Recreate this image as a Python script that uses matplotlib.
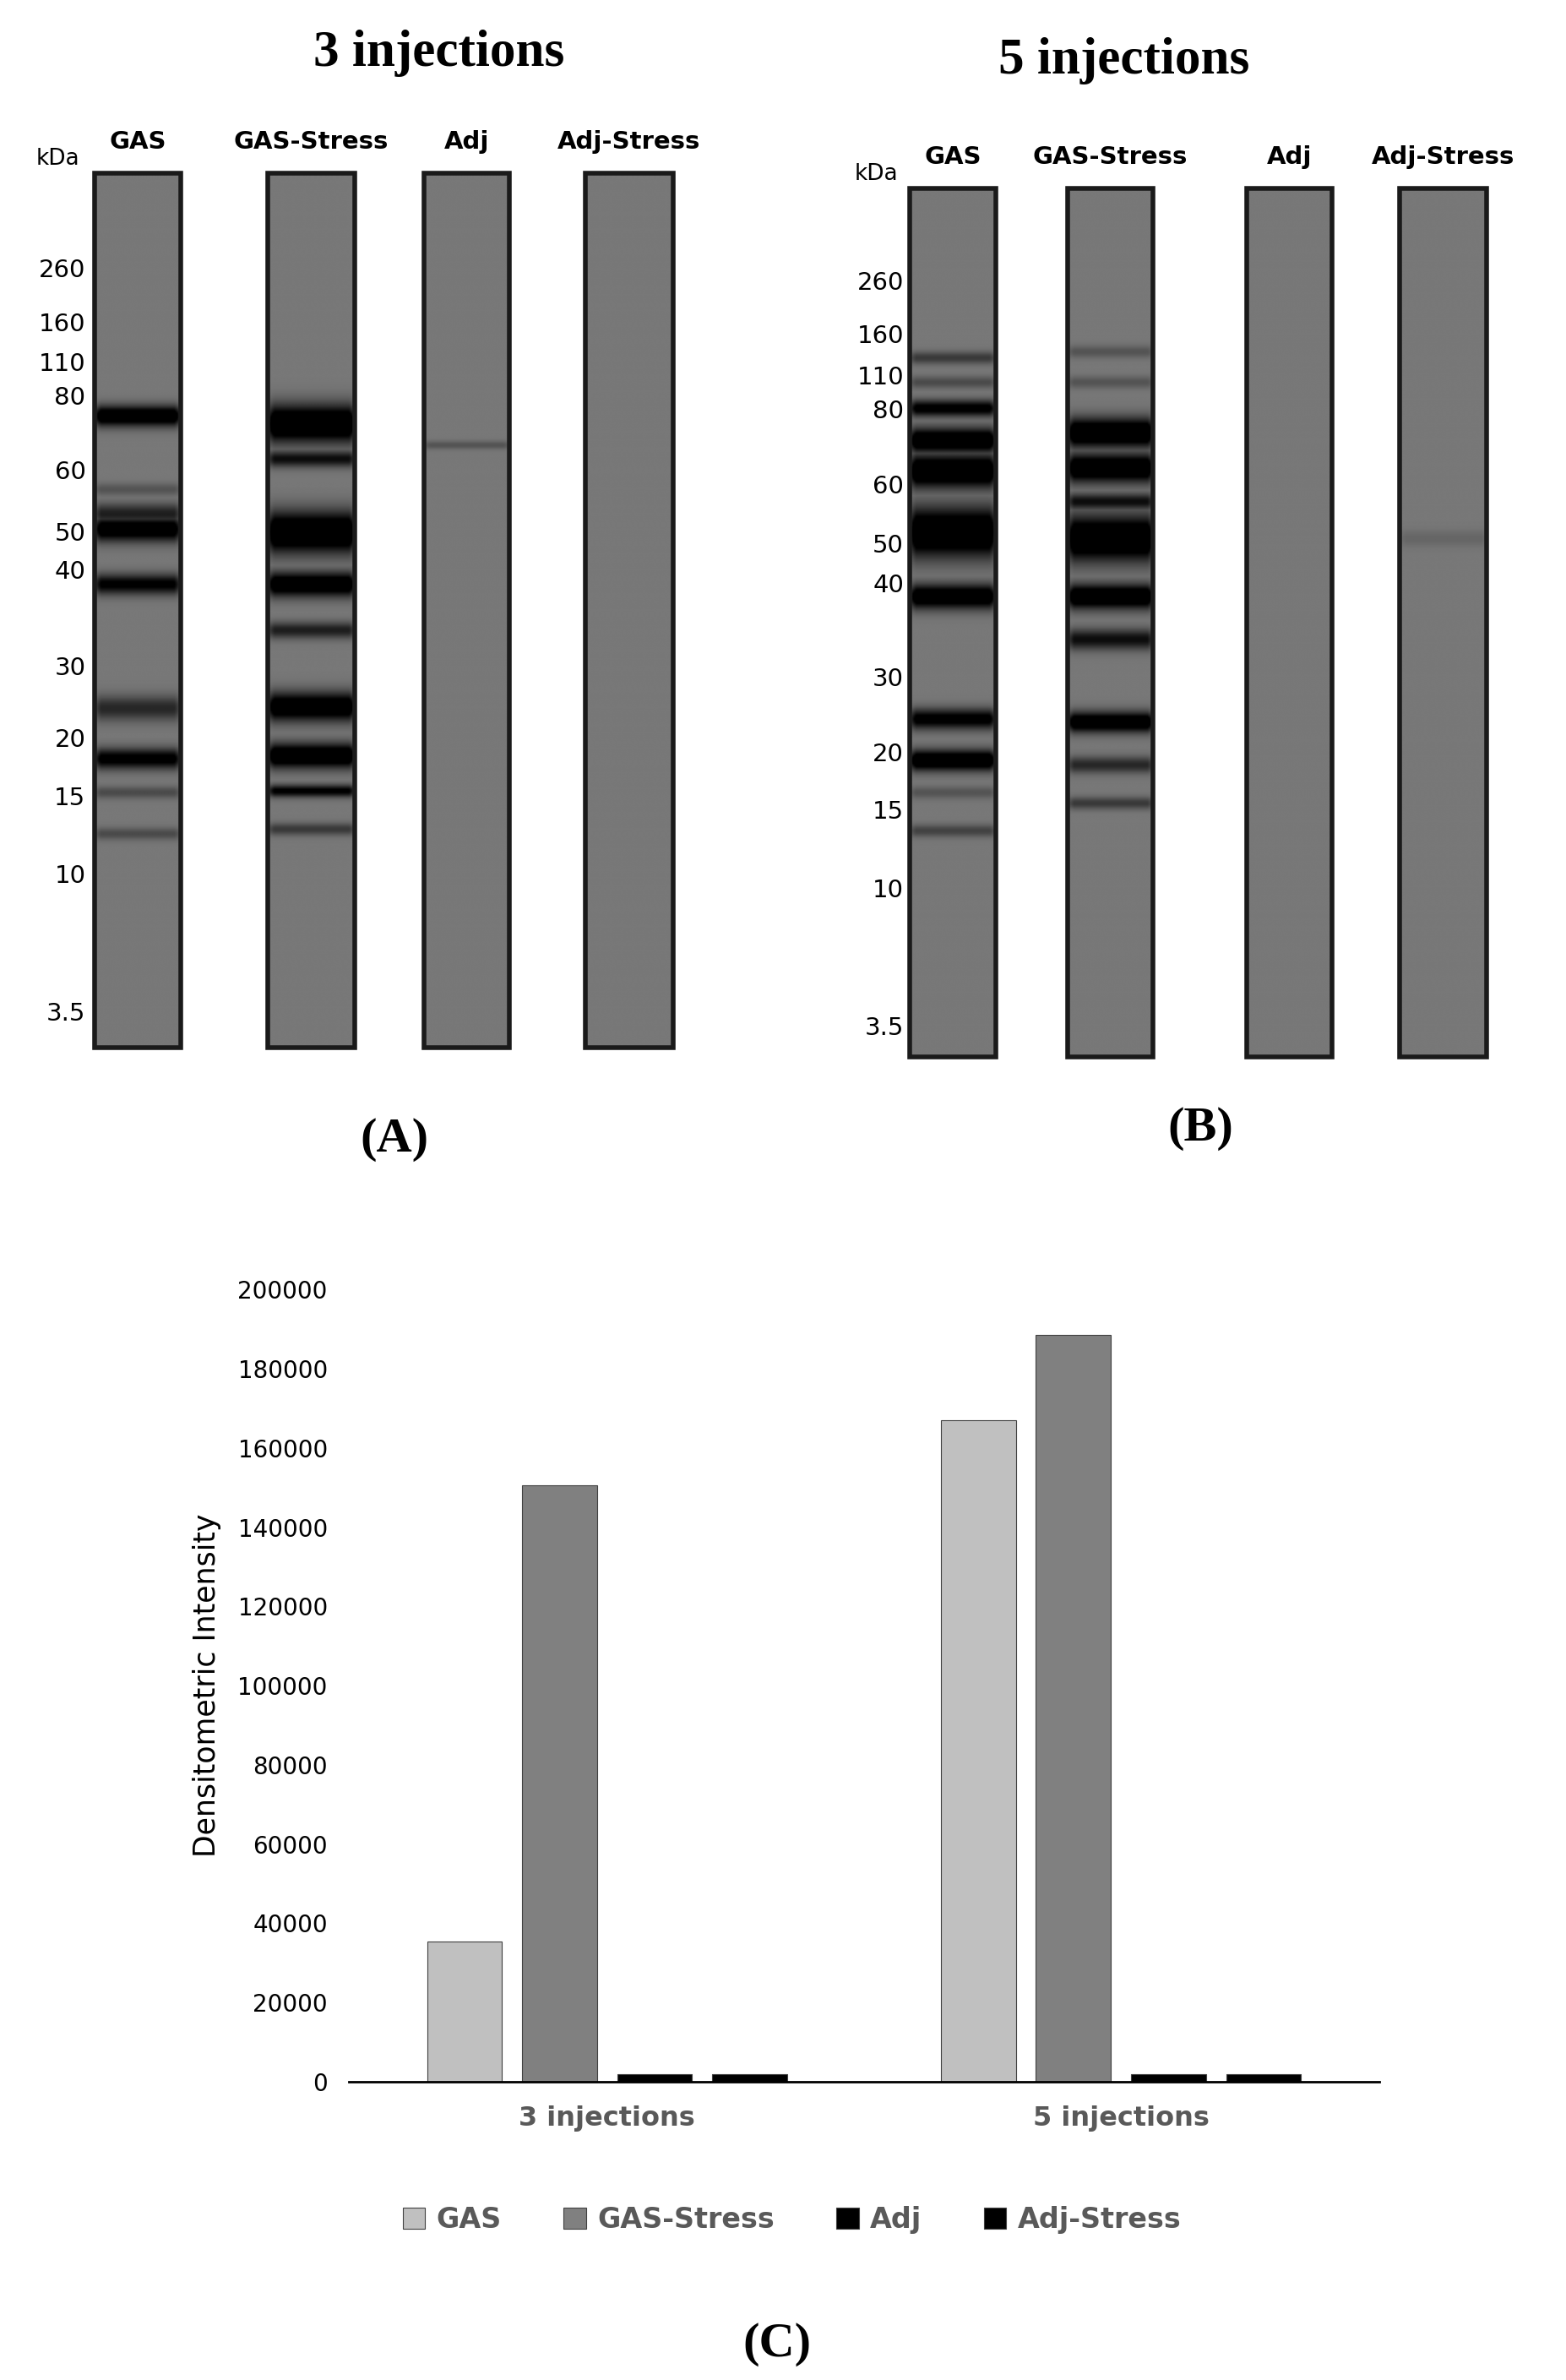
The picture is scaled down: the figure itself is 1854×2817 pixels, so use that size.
import numpy as np
import matplotlib; matplotlib.use("Agg")
import matplotlib.pyplot as plt

# ---- data ----
groups = ["3 injections", "5 injections"]
series = ["GAS", "GAS-Stress", "Adj", "Adj-Stress"]
vals = {"GAS": [35500, 167000], "GAS-Stress": [150500, 188500],
        "Adj": [2000, 2000], "Adj-Stress": [2000, 2000]}
colors = ["#c0c0c0", "#808080", "#000000", "#000000"]

markers = ["260", "160", "110", "80", "60", "50", "40", "30", "20", "15", "10", "3.5"]
# marker rows (reference px) for blot A and B
mk_y_A = [177, 212, 238, 260, 309, 349, 374, 437, 484, 522, 573, 663]
mk_y_B = [185, 220, 247, 269, 318, 357, 383, 444, 493, 531, 582, 672]

# bands per lane: (row, darkness 0..1, thickness)
bands_A = {
    "GAS": [(272, .9, 5), (320, .2, 3), (336, .5, 5), (346, .85, 6), (382, .7, 5),
            (463, .45, 6), (496, .75, 5), (518, .25, 3), (545, .25, 3)],
    "GAS-Stress": [(277, 1., 9), (300, .6, 4), (348, 1., 10), (382, .9, 6), (412, .5, 4),
                   (462, .9, 7), (494, .95, 6), (517, .7, 3), (542, .35, 3)],
    "Adj": [(291, .2, 2)],
    "Adj-Stress": [],
}
bands_B = {
    "GAS": [(234, .35, 3), (250, .25, 3), (267, .75, 4), (288, .95, 6), (308, 1., 8),
            (348, 1., 12), (390, .9, 6), (470, .75, 5), (497, .95, 5), (518, .2, 3), (543, .3, 3)],
    "GAS-Stress": [(230, .2, 3), (250, .2, 3), (283, 1., 7), (306, .95, 7), (328, .6, 4),
                   (352, 1., 11), (390, .95, 6), (418, .6, 5), (472, .9, 5),
                   (500, .45, 4), (525, .35, 3)],
    "Adj": [],
    "Adj-Stress": [(352, .1, 4)],
}
lanes_A = [(62, 118), (175, 232), (277, 333), (383, 440)]
lanes_B = [(595, 651), (698, 754), (815, 871), (915, 972)]

W, H = 1024, 1556
fig = plt.figure(figsize=(18.54, 28.17), dpi=100)
ax0 = fig.add_axes([0, 0, 1, 1])
ax0.set_xlim(0, W); ax0.set_ylim(H, 0); ax0.axis("off")

def lane_img(top, bot, bands):
    rows = np.arange(top, bot, 0.5)
    cols = np.linspace(-1, 1, 60)
    prof = np.zeros_like(rows, dtype=float)
    for r, d, t in bands:
        prof = np.maximum(prof, d * np.exp(-0.5 * ((rows - r) / (t * 0.95)) ** 2))
    horiz = np.clip(1.6 - 1.1 * np.abs(cols) ** 4, 0, 1)
    img = 0.47 - 0.47 * np.clip(prof[:, None] * horiz[None, :] * 1.5, 0, 1)
    return img

def blot(lanes, top, bot, bands, mk_y, kda_xy, title, title_xy, lab_y, letter, letter_xy, mk_x):
    ax0.text(*title_xy, title, ha="center", va="center", fontsize=44, fontweight="bold",
             family="Liberation Serif")
    ax0.text(*letter_xy, letter, ha="center", va="center", fontsize=42, fontweight="bold",
             family="Liberation Serif")
    ax0.text(*kda_xy, "kDa", ha="center", va="center", fontsize=19)
    for lab, y in zip(markers, mk_y):
        ax0.text(mk_x, y, lab, ha="right", va="center", fontsize=21)
    for (x0, x1), name in zip(lanes, series):
        ax0.imshow(lane_img(top, bot, bands[name]), cmap="gray", vmin=0, vmax=1,
                   extent=(x0, x1, bot, top), aspect="auto", interpolation="bilinear", zorder=2)
        ax0.add_patch(plt.Rectangle((x0, top), x1 - x0, bot - top, fill=False,
                                    lw=4, ec="#1a1a1a", zorder=3))
        ax0.text((x0 + x1) / 2, lab_y, name, ha="center", va="center", fontsize=21,
                 fontweight="bold")

blot(lanes_A, 113, 685, bands_A, mk_y_A, (38, 104), "3 injections", (287, 35), 93,
     "(A)", (258, 745), 56)
blot(lanes_B, 123, 691, bands_B, mk_y_B, (573, 114), "5 injections", (735, 40), 103,
     "(B)", (785, 738), 591)
ax0.text(508, 1533, "(C)", ha="center", va="center", fontsize=42, fontweight="bold",
         family="Liberation Serif")
ax0.set_xlim(0, W); ax0.set_ylim(H, 0)

# ---- bar chart ----
ax = fig.add_axes([228 / W, 1 - 1361 / H, (902 - 228) / W, (1361 - 843) / H])
x = np.arange(len(groups))
bw = 0.146
offs = [-0.2775, -0.0925, 0.0925, 0.2775]
for s, c, o in zip(series, colors, offs):
    ax.bar(x + o, vals[s], bw, color=c, edgecolor="#404040", lw=0.8, label=s)
ax.set_xlim(-0.503, 1.503)
ax.set_ylim(0, 200000)
ax.set_yticks(np.arange(0, 200001, 20000))
ax.tick_params(axis="y", length=0, labelsize=20, pad=18)
ax.tick_params(axis="x", length=0, labelsize=23, pad=20, labelcolor="#595959")
ax.set_xticks(x)
ax.set_xticklabels(groups, fontweight="bold")
for sp in ["top", "right", "left"]:
    ax.spines[sp].set_visible(False)
ax.spines["bottom"].set_linewidth(2)
ax.set_ylabel("Densitometric Intensity", fontsize=25, labelpad=14)
leg = ax.legend(loc="upper center", bbox_to_anchor=(0.43, -0.125), ncol=4, frameon=False,
                fontsize=24, handlelength=0.8, handleheight=0.8, columnspacing=2.2,
                handletextpad=0.4)
for t in leg.get_texts():
    t.set_color("#595959"); t.set_fontweight("bold")

fig.savefig("out.png", dpi=100)
